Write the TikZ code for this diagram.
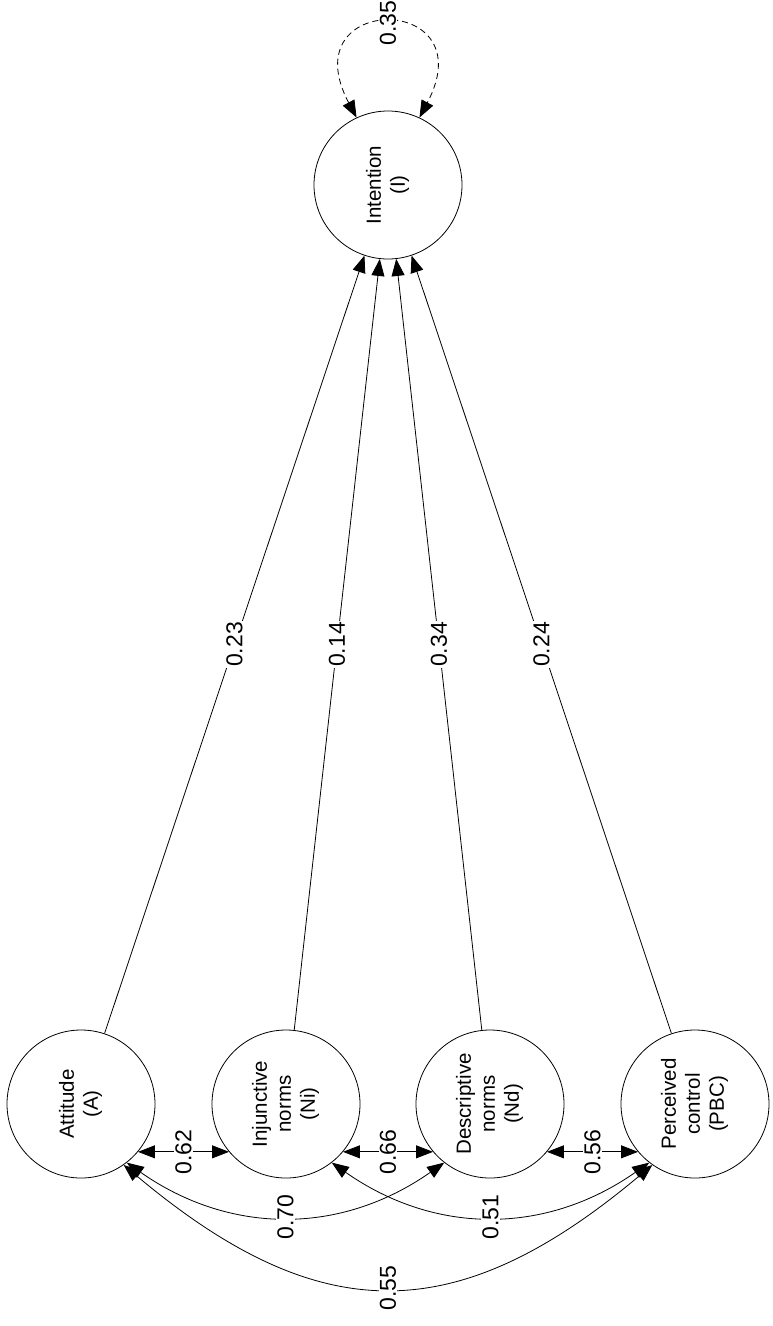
\documentclass[tikz,border=0pt]{standalone}
\usepackage{fontspec}
\setmainfont{Liberation Sans}
\usepackage{graphicx}
\usetikzlibrary{arrows.meta}
\newcommand{\rtxt}[1]{\rotatebox{90}{\begin{tabular}{@{}c@{}}#1\end{tabular}}}
\tikzset{
  latent/.style={draw, circle, line width=0.8pt, minimum size=148pt, inner sep=0pt,
    font=\fontsize{20.5}{24}\selectfont},
  lbl/.style={fill=white, inner sep=1pt, rotate=90, font=\fontsize{23}{25}\selectfont},
  onearr/.style={line width=0.8pt, -{Triangle[length=17pt,width=13pt]}},
  biarr/.style={line width=0.8pt, {Triangle[length=17pt,width=13pt]}-{Triangle[length=17pt,width=13pt]}},
  loopdash/.style={dash pattern=on 6pt off 4pt}
}
\begin{document}
\begin{tikzpicture}[x=1pt,y=1pt]
\useasboundingbox[fill=white] (0,0) rectangle (772,-1326);
\node[latent] (I) at (388,-185) {\rtxt{Intention\\(I)}};
\node[latent] (A) at (81,-1104) {\rtxt{Attitude\\(A)}};
\node[latent] (Ni) at (286,-1104) {\rtxt{Injunctive\\norms\\(Ni)}};
\node[latent] (Nd) at (490,-1104) {\rtxt{Descriptive\\norms\\(Nd)}};
\node[latent] (PBC) at (695,-1104) {\rtxt{Perceived\\control\\(PBC)}};

\draw[onearr] (A) -- node[lbl]{0.23} (I);
\draw[onearr] (Ni) -- node[lbl]{0.14} (I);
\draw[onearr] (Nd) -- node[lbl]{0.34} (I);
\draw[onearr] (PBC) -- node[lbl]{0.24} (I);

\draw[biarr, loopdash] (I.115) .. controls (290,8) and (486,8) .. node[lbl]{0.35} (I.65);

\draw[biarr] (A.-40) -- node[lbl]{0.62} (Ni.220);
\draw[biarr] (Ni.-40) -- node[lbl]{0.66} (Nd.220);
\draw[biarr] (Nd.-40) -- node[lbl]{0.56} (PBC.220);

\draw[biarr] (A.-52) to[out=-35,in=-145,looseness=1.02] node[lbl]{0.70} (Nd.-128);
\draw[biarr] (Ni.-52) to[out=-35,in=-145,looseness=1.02] node[lbl]{0.51} (PBC.-128);
\draw[biarr] (A.-55) to[out=-40,in=-140,looseness=1.24] node[lbl]{0.55} (PBC.-125);
\end{tikzpicture}
\end{document}
